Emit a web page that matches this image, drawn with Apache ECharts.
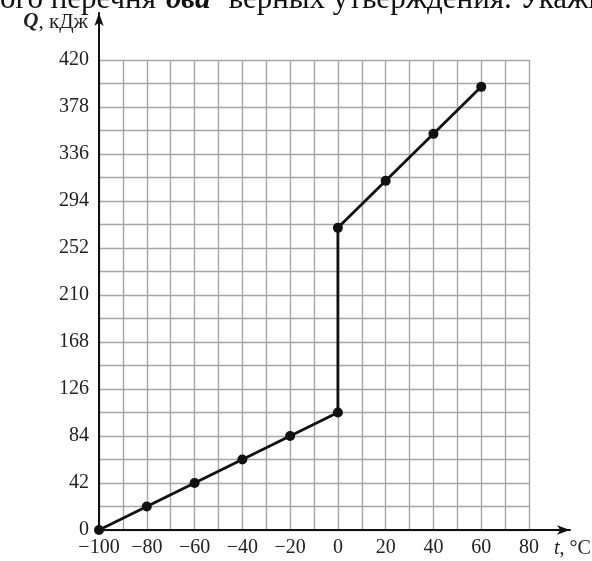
<!DOCTYPE html>
<html><head><meta charset="utf-8">
<script src="https://cdn.jsdelivr.net/npm/echarts@6/dist/echarts.min.js"></script>
<style>html,body{margin:0;padding:0;background:#fff}#c{width:592px;height:561px}</style>
</head><body><div id="c"></div>
<script>
const temps = [-100, -80, -60, -40, -20, 0, 0, 20, 40, 60];
const heat = [0, 21, 42, 63, 84, 105, 270, 312, 354, 396];
const xTicks = [-100, -80, -60, -40, -20, 0, 20, 40, 60, 80];
const yTicks = [0, 42, 84, 126, 168, 210, 252, 294, 336, 378, 420];
const headText = 'ого перечня';
const headBold = 'два';
const headTail = 'верных утверждения. Укажите';

const serif = '"Liberation Serif", "DejaVu Serif", serif';
const chart = echarts.init(document.getElementById('c'));
const fmt = v => String(v).replace('-', '\u2212');
chart.setOption({
  animation: false,
  backgroundColor: '#fff',
  graphic: [{
    type: 'text', left: 0, top: -16,
    style: {
      text: '{n|' + headText + '}{b|' + headBold + '}{n|' + headTail + '}',
      rich: {
        n: {fontFamily: serif, fontSize: 31, fill: '#111'},
        b: {fontFamily: serif, fontSize: 31, fontWeight: 'bold', fontStyle: 'italic', fill: '#111', padding: [0, 18, 0, 10]}
      }
    }
  }],
  grid: [
    {left: 99, top: 60, right: 63, bottom: 31, containLabel: false, outerBoundsMode: 'none'},
    {left: 99, top: 13, right: 22, bottom: 31, containLabel: false, outerBoundsMode: 'none'}
  ],
  xAxis: [{
    gridIndex: 0, type: 'value', min: -100, max: 80, interval: 10,
    axisLine: {show: false}, axisTick: {show: false},
    splitLine: {show: true, lineStyle: {color: '#a6a6a6', width: 1.4}},
    axisLabel: {
      margin: 8, fontFamily: serif, fontSize: 20, color: '#222',
      formatter: v => (v % 20 === 0 && xTicks.includes(v)) ? fmt(v) : ''
    }
  }, {
    gridIndex: 1, type: 'value', min: -100, max: 95,
    axisLine: {show: true, onZero: false, lineStyle: {color: '#111', width: 2}, symbol: ['none', 'arrow'], symbolSize: [7, 13]},
    axisTick: {show: false}, axisLabel: {show: false}, splitLine: {show: false},
    name: '{i|t}{n|, °C}', nameLocation: 'end', nameGap: -16,
    nameTextStyle: {verticalAlign: 'top', padding: [9, 0, 0, 0],
      rich: {
        i: {fontFamily: serif, fontSize: 20, fontStyle: 'italic', color: '#222'},
        n: {fontFamily: serif, fontSize: 20, color: '#222'}
      }}
  }],
  yAxis: [{
    gridIndex: 0, type: 'value', min: 0, max: 420, interval: 21,
    axisLine: {show: false}, axisTick: {show: false},
    splitLine: {show: true, lineStyle: {color: '#a6a6a6', width: 1.4}},
    axisLabel: {
      margin: 10, fontFamily: serif, fontSize: 20, color: '#222',
      formatter: v => (yTicks.includes(v)) ? fmt(v) : ''
    }
  }, {
    gridIndex: 1, type: 'value', min: 0, max: 462,
    axisLine: {show: true, onZero: false, lineStyle: {color: '#111', width: 2}, symbol: ['none', 'arrow'], symbolSize: [7, 13]},
    axisTick: {show: false}, axisLabel: {show: false}, splitLine: {show: false},
    name: '{i|Q}{n|, кДж}', nameLocation: 'end', nameGap: -9,
    nameTextStyle: {align: 'right', verticalAlign: 'middle', padding: [0, 11, 0, 0],
      rich: {
        i: {fontFamily: serif, fontSize: 21, fontStyle: 'italic', fontWeight: 'bold', color: '#222'},
        n: {fontFamily: serif, fontSize: 21, color: '#222'}
      }}
  }],
  series: [{
    type: 'line', xAxisIndex: 0, yAxisIndex: 0,
    data: temps.map((t, i) => [t, heat[i]]),
    lineStyle: {color: '#111', width: 2.8},
    itemStyle: {color: '#111'},
    symbol: 'circle', symbolSize: 10, z: 5,
    clip: false
  }]
});
</script></body></html>
